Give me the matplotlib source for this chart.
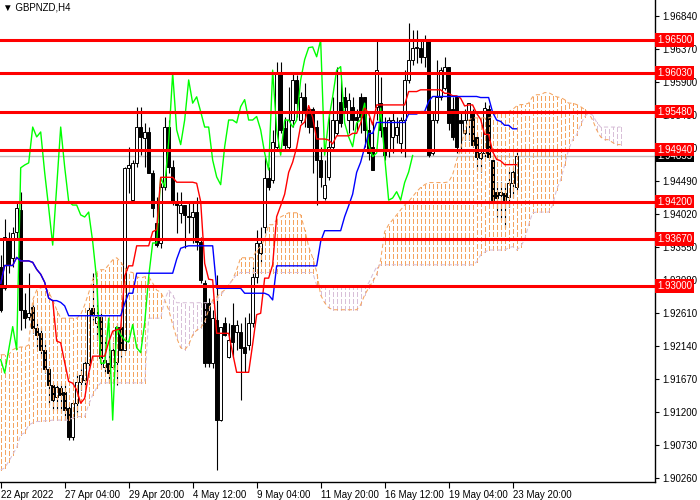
import numpy as np
import pandas as pd
import matplotlib
matplotlib.use("Agg")
import matplotlib.pyplot as plt
from matplotlib.transforms import blended_transform_factory

# ── GBPNZD H4 candles ────────────────────────────────────────────────────────
open_ = [
    1.9327, 1.9297, 1.9366, 1.9340, 1.9377, 1.9408, 1.9266, 1.9256, 1.9270, 1.9240,
    1.9233, 1.9209, 1.9181, 1.9159, 1.9142, 1.9155, 1.9149, 1.9126, 1.9085, 1.9134,
    1.9163, 1.9166, 1.9190, 1.9269, 1.9247, 1.9256, 1.9185, 1.9190, 1.9185, 1.9192,
    1.9242, 1.9209, 1.9468, 1.9422, 1.9475, 1.9526, 1.9511, 1.9519, 1.9461, 1.9390,
    1.9361, 1.9441, 1.9526, 1.9469, 1.9420, 1.9404, 1.9415, 1.9400, 1.9398, 1.9405,
    1.9363, 1.9304, 1.9276, 1.9190, 1.9252, 1.9109, 1.9247, 1.9199, 1.9245, 1.9235,
    1.9235, 1.9213, 1.9216, 1.9247, 1.9313, 1.9347, 1.9384, 1.9454, 1.9451, 1.9498,
    1.9603, 1.9525, 1.9498, 1.9536, 1.9593, 1.9536, 1.9569, 1.9551, 1.9551, 1.9526,
    1.9479, 1.9425, 1.9455, 1.9498, 1.9518, 1.9562, 1.9569, 1.9536, 1.9555, 1.9541,
    1.9569, 1.9569, 1.9522, 1.9498, 1.9555, 1.9560, 1.9526, 1.9494, 1.9512, 1.9515,
    1.9504, 1.9536, 1.9593, 1.9622, 1.9639, 1.9639, 1.9625, 1.9650, 1.9489, 1.9536,
    1.9569, 1.9582, 1.9612, 1.9551, 1.9569, 1.9536, 1.9518, 1.9536, 1.9546, 1.9512,
    1.9482, 1.9489, 1.9551, 1.9479, 1.9434, 1.9430, 1.9432, 1.9427, 1.9447, 1.9440,
]
high = [
    1.9344, 1.9395, 1.9377, 1.9384, 1.9418, 1.9434, 1.9290, 1.9319, 1.9273, 1.9247,
    1.9242, 1.9223, 1.9185, 1.9163, 1.9162, 1.9162, 1.9162, 1.9134, 1.9135, 1.9176,
    1.9181, 1.9199, 1.9270, 1.9319, 1.9299, 1.9262, 1.9223, 1.9213, 1.9219, 1.9247,
    1.9247, 1.9469, 1.9498, 1.9479, 1.9555, 1.9555, 1.9532, 1.9526, 1.9465, 1.9427,
    1.9447, 1.9541, 1.9536, 1.9479, 1.9434, 1.9434, 1.9415, 1.9418, 1.9418, 1.9427,
    1.9370, 1.9309, 1.9283, 1.9266, 1.9316, 1.9242, 1.9256, 1.9247, 1.9276, 1.9252,
    1.9247, 1.9256, 1.9262, 1.9327, 1.9380, 1.9384, 1.9484, 1.9469, 1.9522, 1.9619,
    1.9619, 1.9541, 1.9583, 1.9603, 1.9600, 1.9576, 1.9589, 1.9553, 1.9555, 1.9536,
    1.9498, 1.9479, 1.9546, 1.9569, 1.9612, 1.9593, 1.9583, 1.9575, 1.9569, 1.9551,
    1.9575, 1.9569, 1.9541, 1.9536, 1.9650, 1.9597, 1.9541, 1.9541, 1.9546, 1.9541,
    1.9541, 1.9607, 1.9674, 1.9664, 1.9664, 1.9650, 1.9657, 1.9650, 1.9546, 1.9622,
    1.9612, 1.9626, 1.9612, 1.9569, 1.9569, 1.9546, 1.9551, 1.9560, 1.9551, 1.9518,
    1.9494, 1.9562, 1.9558, 1.9484, 1.9448, 1.9448, 1.9447, 1.9465, 1.9469, 1.9494,
]
low = [
    1.9263, 1.9294, 1.9319, 1.9327, 1.9366, 1.9237, 1.9240, 1.9252, 1.9233, 1.9213,
    1.9199, 1.9176, 1.9131, 1.9124, 1.9124, 1.9119, 1.9109, 1.9081, 1.9081, 1.9121,
    1.9152, 1.9156, 1.9181, 1.9252, 1.9223, 1.9181, 1.9176, 1.9162, 1.9181, 1.9159,
    1.9199, 1.9205, 1.9432, 1.9420, 1.9469, 1.9486, 1.9469, 1.9461, 1.9398, 1.9356,
    1.9354, 1.9437, 1.9461, 1.9415, 1.9375, 1.9390, 1.9354, 1.9375, 1.9361, 1.9351,
    1.9304, 1.9185, 1.9185, 1.9183, 1.9038, 1.9107, 1.9228, 1.9198, 1.9199, 1.9209,
    1.9138, 1.9178, 1.9209, 1.9242, 1.9304, 1.9333, 1.9375, 1.9437, 1.9447, 1.9494,
    1.9518, 1.9494, 1.9494, 1.9526, 1.9541, 1.9532, 1.9526, 1.9518, 1.9461, 1.9415,
    1.9441, 1.9422, 1.9451, 1.9494, 1.9515, 1.9526, 1.9546, 1.9518, 1.9522, 1.9522,
    1.9518, 1.9498, 1.9479, 1.9465, 1.9536, 1.9512, 1.9479, 1.9484, 1.9489, 1.9504,
    1.9489, 1.9484, 1.9589, 1.9615, 1.9617, 1.9617, 1.9612, 1.9484, 1.9486, 1.9532,
    1.9565, 1.9579, 1.9522, 1.9508, 1.9489, 1.9489, 1.9508, 1.9508, 1.9498, 1.9465,
    1.9462, 1.9484, 1.9479, 1.9420, 1.9398, 1.9394, 1.9383, 1.9412, 1.9425, 1.9437,
]
close = [
    1.9266, 1.9370, 1.9330, 1.9375, 1.9411, 1.9266, 1.9254, 1.9262, 1.9240, 1.9230,
    1.9209, 1.9181, 1.9159, 1.9138, 1.9156, 1.9144, 1.9124, 1.9085, 1.9134, 1.9163,
    1.9173, 1.9190, 1.9266, 1.9259, 1.9256, 1.9198, 1.9195, 1.9176, 1.9209, 1.9242,
    1.9209, 1.9468, 1.9472, 1.9475, 1.9526, 1.9512, 1.9519, 1.9461, 1.9411, 1.9358,
    1.9441, 1.9526, 1.9469, 1.9420, 1.9415, 1.9415, 1.9401, 1.9398, 1.9405, 1.9363,
    1.9309, 1.9190, 1.9190, 1.9254, 1.9109, 1.9242, 1.9230, 1.9223, 1.9220, 1.9245,
    1.9212, 1.9205, 1.9247, 1.9313, 1.9361, 1.9361, 1.9454, 1.9441, 1.9505, 1.9603,
    1.9522, 1.9501, 1.9536, 1.9593, 1.9560, 1.9569, 1.9548, 1.9526, 1.9526, 1.9479,
    1.9455, 1.9444, 1.9498, 1.9536, 1.9536, 1.9532, 1.9555, 1.9565, 1.9536, 1.9536,
    1.9541, 1.9522, 1.9489, 1.9465, 1.9607, 1.9522, 1.9486, 1.9536, 1.9536, 1.9526,
    1.9536, 1.9593, 1.9622, 1.9639, 1.9640, 1.9626, 1.9650, 1.9486, 1.9536, 1.9569,
    1.9607, 1.9612, 1.9532, 1.9512, 1.9498, 1.9532, 1.9536, 1.9560, 1.9501, 1.9484,
    1.9489, 1.9553, 1.9484, 1.9422, 1.9425, 1.9434, 1.9422, 1.9447, 1.9462, 1.94855,
]

# ── Ichimoku cloud edges (Senkou A / B, already shifted 26 bars ahead) ────────
span_a = [
    1.9202, 1.9202, 1.9202, 1.9209, 1.9212, 1.9213, 1.9213, 1.9216, 1.9280, 1.9294,
    1.9297, 1.9299, 1.9291, 1.9280, 1.9266, 1.9254, 1.9254, 1.9254, 1.9254, 1.9254,
    1.9259, 1.9273, 1.9290, 1.9309, 1.9319, 1.9323, 1.9323, 1.9330, 1.9337, 1.9340,
    1.9334, 1.9326, 1.9320, 1.9319, 1.9313, 1.9311, 1.9313, 1.9313, 1.9304, 1.9294,
    1.9291, 1.9280, 1.9266, 1.9245, 1.9226, 1.9212, 1.9209, 1.9216, 1.9230, 1.9237,
    1.9240, 1.9249, 1.9266, 1.9280, 1.9284, 1.9290, 1.9294, 1.9301, 1.9309, 1.9323,
    1.9340, 1.9340, 1.9340, 1.9340, 1.9351, 1.9356, 1.9366, 1.9387, 1.9387, 1.9394,
    1.9398, 1.9401, 1.9404, 1.9404, 1.9404, 1.9401, 1.9380, 1.9356, 1.9340, 1.9320,
    1.9287, 1.9276, 1.9269, 1.9266, 1.9266, 1.9266, 1.9266, 1.9266, 1.9266, 1.9266,
    1.9273, 1.9287, 1.9297, 1.9306, 1.9316, 1.9337, 1.9377, 1.9387, 1.9394, 1.9401,
    1.9408, 1.9415, 1.9420, 1.9427, 1.9434, 1.9440, 1.9444, 1.9447, 1.9447, 1.9447,
    1.9447, 1.9447, 1.9448, 1.9458, 1.9479, 1.9494, 1.9522, 1.9536, 1.9539, 1.9539,
    1.9539, 1.9539, 1.9539, 1.9541, 1.9546, 1.9548, 1.9548, 1.9548, 1.9551, 1.9556,
    1.9558, 1.9558, 1.9560, 1.9569, 1.9572, 1.9572, 1.9575, 1.9575, 1.9572, 1.9569,
    1.9568, 1.9565, 1.9560, 1.9560, 1.9558, 1.9555, 1.9551, 1.9546, 1.9536, 1.9522,
    1.9512, 1.9508, 1.9508, 1.9504, 1.9501, 1.9501,
]
span_b = [
    1.9038, 1.9041, 1.9050, 1.9060, 1.9070, 1.9088, 1.9091, 1.9102, 1.9105, 1.9107,
    1.9107, 1.9108, 1.9108, 1.9109, 1.9109, 1.9109, 1.9109, 1.9109, 1.9112, 1.9114,
    1.9114, 1.9114, 1.9131, 1.9145, 1.9155, 1.9162, 1.9162, 1.9162, 1.9162, 1.9162,
    1.9162, 1.9162, 1.9162, 1.9162, 1.9162, 1.9162, 1.9162, 1.9254, 1.9254, 1.9254,
    1.9254, 1.9280, 1.9294, 1.9287, 1.9276, 1.9276, 1.9276, 1.9276, 1.9276, 1.9276,
    1.9276, 1.9276, 1.9276, 1.9276, 1.9280, 1.9287, 1.9294, 1.9301, 1.9309, 1.9316,
    1.9319, 1.9319, 1.9319, 1.9319, 1.9319, 1.9319, 1.9319, 1.9319, 1.9319, 1.9319,
    1.9319, 1.9319, 1.9319, 1.9319, 1.9319, 1.9319, 1.9319, 1.9319, 1.9319, 1.9301,
    1.9299, 1.9299, 1.9299, 1.9299, 1.9299, 1.9299, 1.9299, 1.9299, 1.9299, 1.9299,
    1.9299, 1.9299, 1.9304, 1.9316, 1.9327, 1.9330, 1.9330, 1.9330, 1.9330, 1.9330,
    1.9330, 1.9330, 1.9330, 1.9330, 1.9330, 1.9330, 1.9330, 1.9330, 1.9330, 1.9330,
    1.9330, 1.9330, 1.9330, 1.9330, 1.9330, 1.9330, 1.9330, 1.9330, 1.9330, 1.9334,
    1.9344, 1.9348, 1.9351, 1.9351, 1.9351, 1.9351, 1.9351, 1.9354, 1.9356, 1.9351,
    1.9356, 1.9366, 1.9387, 1.9404, 1.9405, 1.9405, 1.9405, 1.9405, 1.9415, 1.9437,
    1.9451, 1.9472, 1.9494, 1.9508, 1.9515, 1.9529, 1.9541, 1.9546, 1.9543, 1.9533,
    1.9526, 1.9526, 1.9526, 1.9526, 1.9526, 1.9526,
]

# ── horizontal levels, last price, axis labels ────────────────────────────────
levels = [1.96500, 1.96030, 1.95480, 1.94940, 1.94200, 1.93670, 1.93000]
last_price = 1.94855
price_ticks = [1.96840, 1.96370, 1.95900, 1.95430, 1.94960, 1.94490, 1.94020,
               1.93550, 1.93080, 1.92610, 1.92140, 1.91670, 1.91200, 1.90730, 1.90260]
time_bars = [0, 16, 32, 48, 64, 80, 96, 112, 128]
time_labels = ["22 Apr 2022", "27 Apr 04:00", "29 Apr 20:00", "4 May 12:00",
               "9 May 04:00", "11 May 20:00", "16 May 12:00", "19 May 04:00",
               "23 May 20:00"]

SHIFT = 26

plt.rcParams["font.family"] = ["Liberation Sans", "DejaVu Sans"]

# ── indicator lines from the candles ──────────────────────────────────────────
hi = pd.Series(high)
lo = pd.Series(low)
tenkan = (hi.rolling(9, min_periods=1).max() + lo.rolling(9, min_periods=1).min()) / 2
kijun = (hi.rolling(26, min_periods=1).max() + lo.rolling(26, min_periods=1).min()) / 2

bars = np.arange(len(close))
o = np.array(open_)
c = np.array(close)

fig = plt.figure(figsize=(7, 5), dpi=100)
ax = fig.add_axes([0, 0.037, 655 / 700, 0.963])

# candles
up = c >= o
ax.vlines(bars, low, high, color="black", lw=0.8, zorder=2)
ax.bar(bars, np.abs(c - o), bottom=np.minimum(o, c), width=0.72,
       color=np.where(up, "white", "black"), edgecolor="black",
       linewidth=0.7, zorder=2.5)

# cloud as dotted histogram (drawn over the candles, as MT4 does)
cx = np.arange(len(span_a))
sa = np.array(span_a)
sb = np.array(span_b)
bull = sa >= sb
dash = (0, (4, 2.7))
ax.vlines(cx[bull], sb[bull], sa[bull], colors="#F4A460", linestyles=dash,
          lw=0.75, antialiased=False, zorder=3)
ax.vlines(cx[~bull], sa[~bull], sb[~bull], colors="#D8BFD8", linestyles=dash,
          lw=0.75, antialiased=False, zorder=3)
ax.plot(cx, sa, color="#F4A460", ls=dash, lw=0.75, zorder=3)
ax.plot(cx, sb, color="#D8BFD8", ls=dash, lw=0.75, zorder=3)

# chikou / tenkan / kijun
ax.plot(bars[SHIFT:] - SHIFT, c[SHIFT:], color="#00FF00", lw=1.0, zorder=4)
ax.plot(bars, tenkan, color="#FF0000", lw=1.0, zorder=4)
ax.plot(bars, kijun, color="#0000FF", lw=1.0, zorder=4)

# last price + levels
ax.axhline(last_price, color="#C0C0C0", lw=1.0, zorder=1.5)
for lv in levels:
    ax.axhline(lv, color="#FF0000", lw=2.2, zorder=6)

trans = blended_transform_factory(ax.transAxes, ax.transData)
for lv in levels:
    ax.text(1.003, lv, f"{lv:.5f}", transform=trans, ha="left", va="center",
            fontsize=7, color="white", zorder=10, clip_on=False,
            bbox=dict(boxstyle="square,pad=0.18", fc="#FF0000", ec="none"))
ax.text(1.003, last_price, f"{last_price:.5f}", transform=trans, ha="left",
        va="center", fontsize=7, color="white", zorder=9, clip_on=False,
        bbox=dict(boxstyle="square,pad=0.18", fc="black", ec="none"))

ax.text(0.004, 0.995, "\u25bc GBPNZD,H4", transform=ax.transAxes, ha="left",
        va="top", fontsize=7, color="black")

# axes
ax.set_xlim(-0.175, 163.6)
ax.set_ylim(1.90216, 1.97068)
ax.yaxis.tick_right()
ax.set_yticks(price_ticks)
ax.set_yticklabels([f"{p:.5f}" for p in price_ticks], fontsize=7)
ax.set_xticks(time_bars)
ax.set_xticklabels(time_labels, fontsize=7, ha="left")
ax.tick_params(axis="y", direction="out", length=3, pad=2, width=0.8)
ax.tick_params(axis="x", direction="out", length=4, pad=2, width=0.8)
for side in ("left", "top"):
    ax.spines[side].set_visible(False)
for side in ("right", "bottom"):
    ax.spines[side].set_linewidth(1.0)

fig.savefig("out.png", dpi=100)
